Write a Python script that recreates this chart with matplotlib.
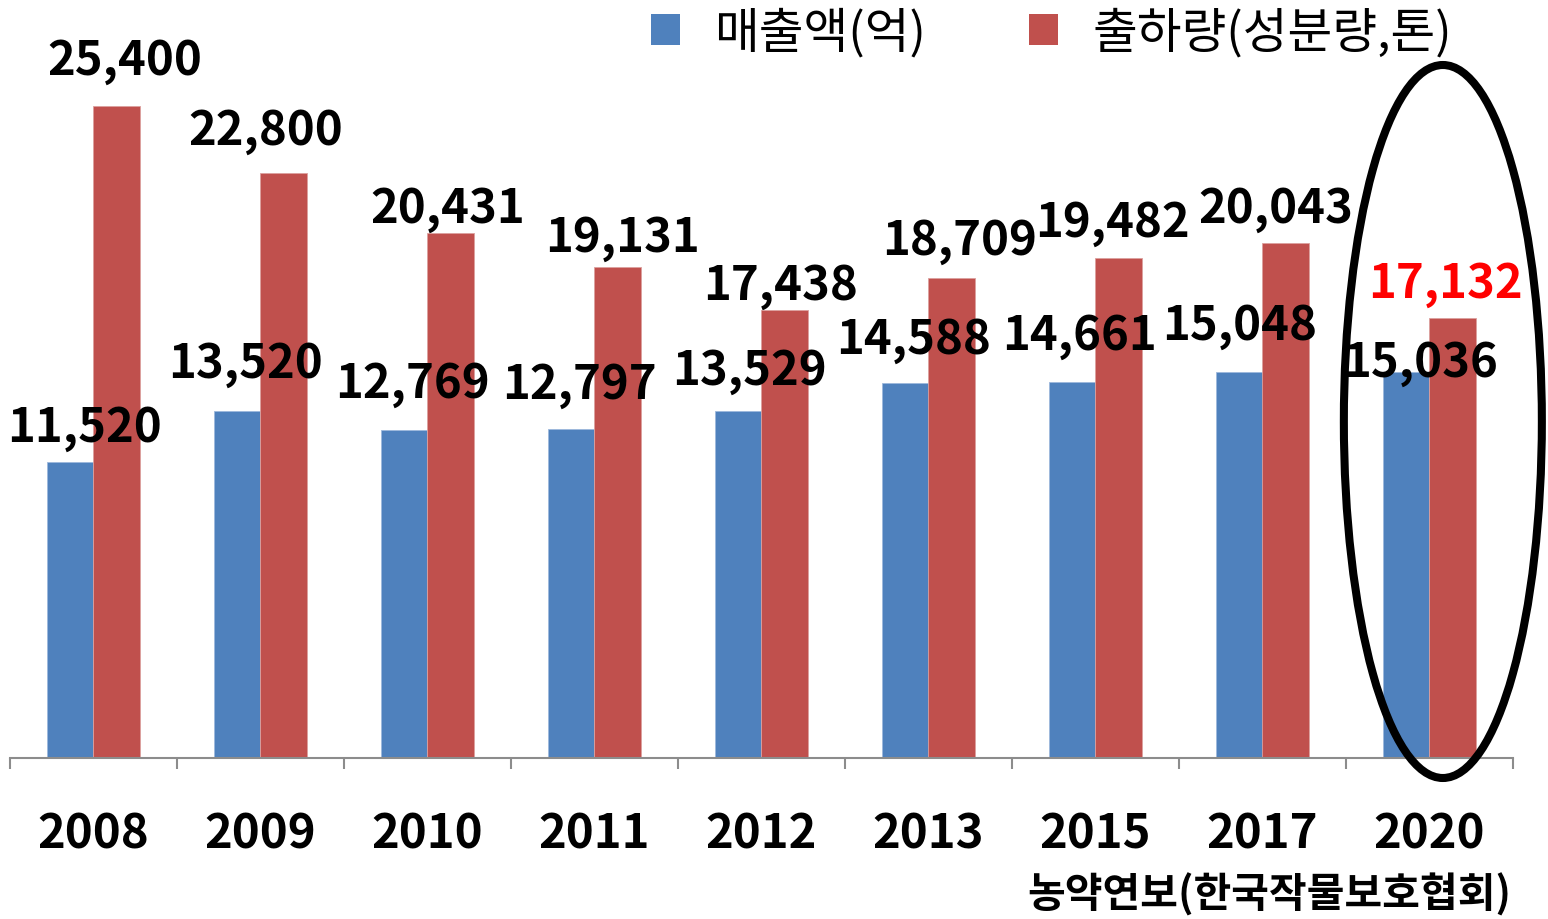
import matplotlib
matplotlib.use("Agg")
import matplotlib.pyplot as plt
from matplotlib.patches import Ellipse, Patch
from matplotlib.transforms import Affine2D
import numpy as np

plt.rcParams['font.family'] = ['Noto Sans CJK KR', 'DejaVu Sans']

years = ['2008', '2009', '2010', '2011', '2012', '2013', '2015', '2017', '2020']
sales = [11520, 13520, 12769, 12797, 13529, 14588, 14661, 15048, 15036]       # 매출액(억)
shipments = [25400, 22800, 20431, 19131, 17438, 18709, 19482, 20043, 17132]  # 출하량(성분량,톤)
legend_labels = ['매출액(억)', '출하량(성분량,톤)']
source = '농약연보(한국작물보호협회)'

# label offsets in pixels (dx, dy) relative to bar top center
sales_off = [(14, 21), (8, 34), (8, 33), (8, 32), (11, 27), (8, 31), (7, 33), (0, 33), (14, -4)]
ship_off = [(8, 32), (-18, 29), (-3, 12), (5, 16), (-4, 11), (8, 24), (-6, 22), (-10, 22), (-7, 21)]

blue = '#4F81BD'
red = '#C0504D'

W, H = 1548, 920
fig = plt.figure(figsize=(W / 100, H / 100), dpi=100)
ax = fig.add_axes([10 / W, (H - 759) / H, 1503 / W, 719 / H])

x = np.arange(len(years))
bw = 0.28
ax.bar(x - bw / 2, sales, bw, color=blue, edgecolor='#9db8dc', linewidth=0.6)
ax.bar(x + bw / 2, shipments, bw, color=red, edgecolor='#dca09e', linewidth=0.6)

ax.set_xlim(-0.5, len(years) - 0.5)
ax.set_ylim(0, 28000)
for s in ['top', 'right', 'left']:
    ax.spines[s].set_visible(False)
ax.spines['bottom'].set_color('#8c8c8c')
ax.spines['bottom'].set_linewidth(1.5)
ax.set_yticks([])
ax.set_xticks(np.arange(-0.5, len(years), 1.0))
ax.set_xticklabels([])
ax.tick_params(axis='x', direction='out', length=8, width=1.5, color='#8c8c8c')

lab_fs = 34
for i in range(len(years)):
    ax.annotate(f'{sales[i]:,}', xy=(x[i] - bw / 2, sales[i]), xytext=sales_off[i],
                textcoords='offset pixels', ha='center', va='baseline',
                fontsize=lab_fs, fontweight='bold', color='black', annotation_clip=False)
    ax.annotate(f'{shipments[i]:,}', xy=(x[i] + bw / 2, shipments[i]), xytext=ship_off[i],
                textcoords='offset pixels', ha='center', va='baseline',
                fontsize=lab_fs, fontweight='bold',
                color='#FF0000' if i == len(years) - 1 else 'black', annotation_clip=False)
    ax.text(x[i], -0.124, years[i], transform=ax.get_xaxis_transform(),
            ha='center', va='baseline', fontsize=lab_fs, fontweight='bold')

# ellipse around last group (size in pixels)
ell_x = len(years) - 1
ell = Ellipse((0, 0), 198, 713, fill=False, lw=5.8, edgecolor='black')
cx_disp, _ = ax.transData.transform((ell_x + 0.08, 0))
ell.set_transform(Affine2D().translate(cx_disp, H - 422.5))
ell.set_clip_on(False)
fig.add_artist(ell)

handles = [Patch(facecolor=blue), Patch(facecolor=red)]
fig.legend(handles, legend_labels, loc='upper left', bbox_to_anchor=(646 / W, 1 - 4 / H),
           ncol=2, frameon=False, fontsize=35, handlelength=0.6, handleheight=0.6,
           handletextpad=0.7, columnspacing=2.12, borderaxespad=0.0, borderpad=0.1)

fig.text(1511 / W, (H - 908) / H, source, ha='right', va='baseline',
         fontsize=29.5, fontweight='bold')

fig.savefig('out.png', dpi=100)
